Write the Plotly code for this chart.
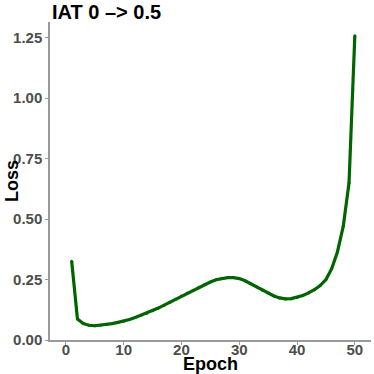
import plotly.graph_objects as go

epochs = list(range(1, 51))
loss = [0.326, 0.087, 0.068, 0.061, 0.059, 0.061, 0.064, 0.068, 0.073, 0.078,
        0.085, 0.093, 0.102, 0.111, 0.121, 0.132, 0.144, 0.156, 0.169, 0.182,
        0.194, 0.206, 0.218, 0.229, 0.240, 0.249, 0.255, 0.258, 0.258, 0.254,
        0.245, 0.233, 0.220, 0.207, 0.194, 0.182, 0.174, 0.170, 0.171, 0.176,
        0.184, 0.195, 0.208, 0.225, 0.250, 0.295, 0.365, 0.470, 0.650, 1.258]

x_ticks = [0, 10, 20, 30, 40, 50]
y_ticks = [0.00, 0.25, 0.50, 0.75, 1.00, 1.25]
y_tick_text = ["0.00", "0.25", "0.50", "0.75", "1.00", "1.25"]

fig = go.Figure()
fig.add_trace(go.Scatter(
    x=epochs, y=loss, mode="lines+markers",
    line=dict(color="#006400", width=3.2),
    marker=dict(color="#006400", size=3),
    hoverinfo="skip", showlegend=False,
))

axis_font = dict(family="Liberation Sans, Arial, sans-serif", size=15, color="#4D4D4D")

fig.update_layout(
    width=374, height=374,
    margin=dict(l=50, r=3, t=22, b=34),
    paper_bgcolor="white", plot_bgcolor="white",
    font=dict(family="Liberation Sans, Arial, sans-serif"),
    title=dict(text="<b>IAT 0 –> 0.5</b>", x=52/374, xanchor="left", xref="container",
               y=1 - 12/374, yanchor="middle", yref="container",
               font=dict(size=20, color="black", family="Liberation Sans, Arial, sans-serif")),
    xaxis=dict(range=[-2.75, 52.8], tickvals=x_ticks, ticktext=[f"<b>{v}</b>" for v in x_ticks],
               showgrid=False, zeroline=False, showline=True, linecolor="#9a9a9a", linewidth=1.5,
               ticks="outside", ticklen=3, tickcolor="#9a9a9a", tickfont=axis_font,
               ticklabelstandoff=-8),
    yaxis=dict(range=[0.0, 1.315], tickvals=y_ticks, ticktext=[f"<b>{t}</b>" for t in y_tick_text],
               showgrid=False, zeroline=False, showline=True, linecolor="#9a9a9a", linewidth=1.5,
               ticks="outside", ticklen=3, tickcolor="#9a9a9a", tickfont=axis_font),
    annotations=[
        dict(text="<b>Epoch</b>", xref="paper", yref="paper", x=0.5, y=-(364 - 340) / 318,
             xanchor="center", yanchor="middle", showarrow=False,
             font=dict(size=18, color="black")),
        dict(text="<b>Loss</b>", xref="paper", yref="paper", x=(12 - 50) / 321, y=0.5,
             xanchor="center", yanchor="middle", showarrow=False, textangle=-90,
             font=dict(size=18, color="black")),
    ],
)

fig.write_html("out.html", config={"displayModeBar": False},
               post_script="document.body.style.margin='0';document.body.style.overflow='hidden';")
